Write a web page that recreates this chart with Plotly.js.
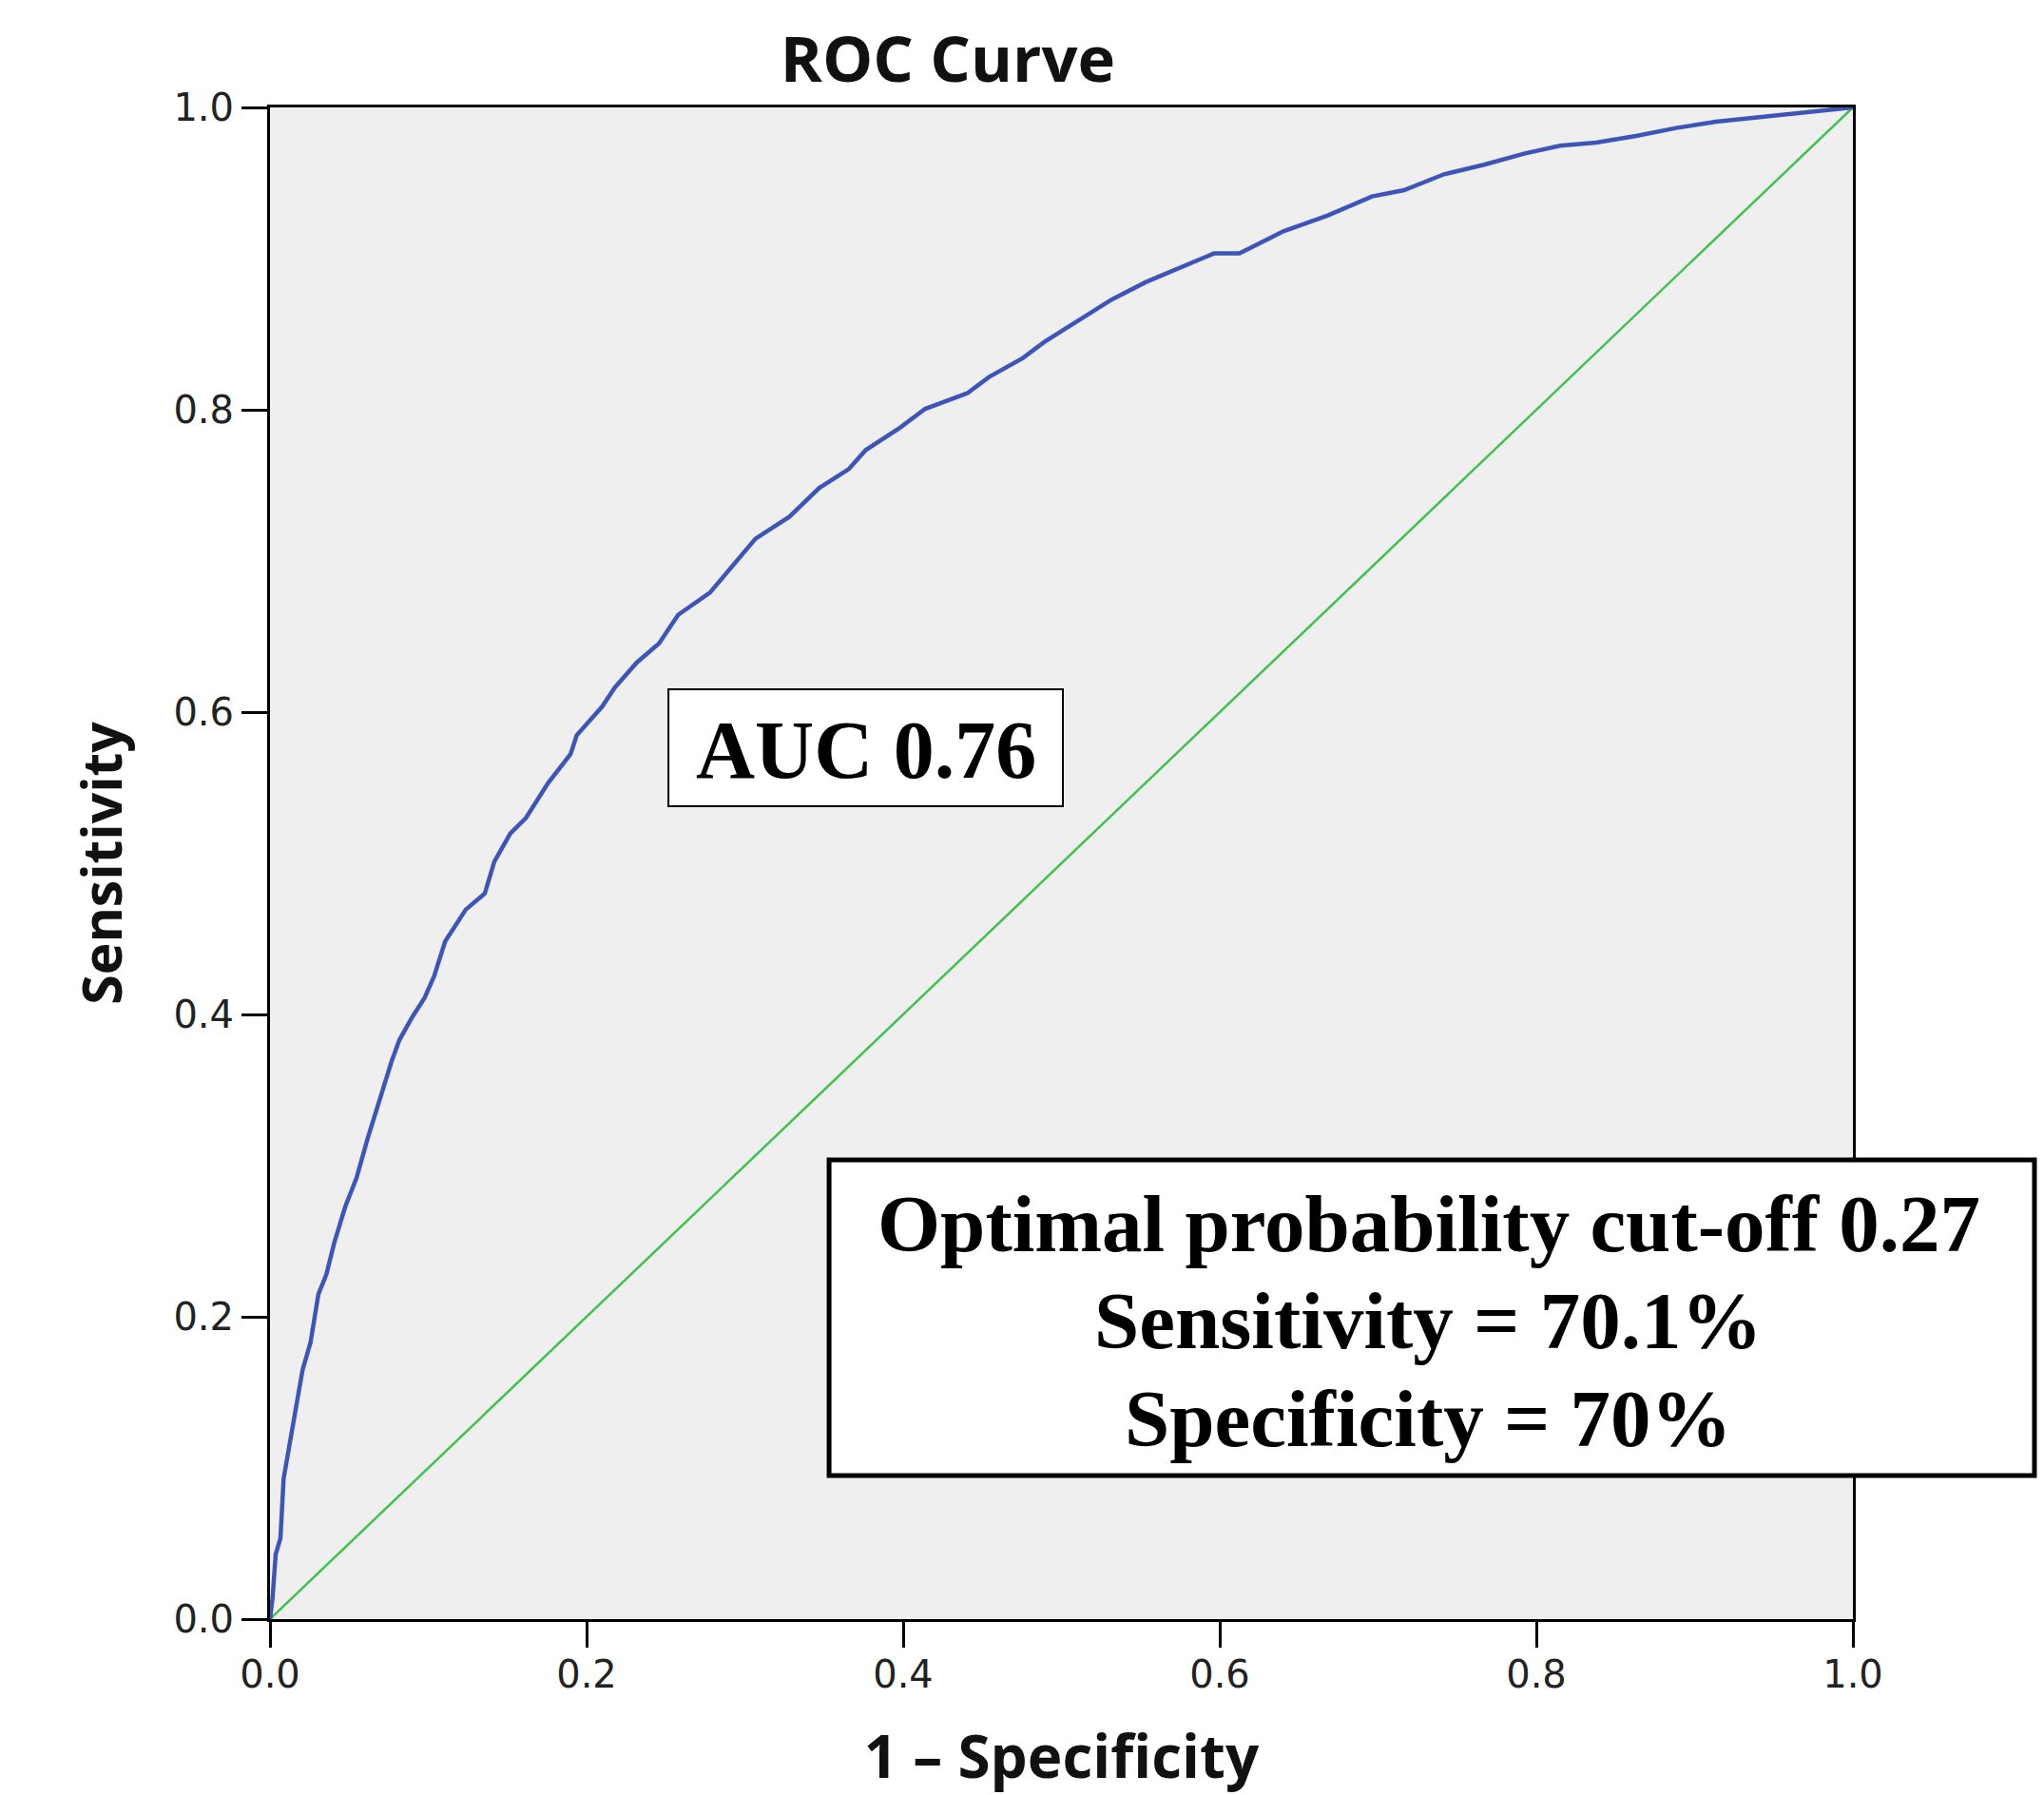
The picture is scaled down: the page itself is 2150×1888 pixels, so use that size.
<!DOCTYPE html>
<html>
<head>
<meta charset="utf-8">
<script src="https://cdn.plot.ly/plotly-3.0.1.min.js"></script>
<style>
  html, body { margin: 0; padding: 0; background: #ffffff; }
  #chart { width: 2150px; height: 1888px; }
</style>
</head>
<body>
<div id="chart"></div>
<script>
// ROC curve: 1 - Specificity (false positive rate) vs Sensitivity
const fpr = [0, 0.0016, 0.0036, 0.0066, 0.0086, 0.0116, 0.0146, 0.0176, 0.0206, 0.0256,
  0.0306, 0.0356, 0.0406, 0.0476, 0.0547, 0.0617, 0.0697, 0.0767, 0.0817, 0.0897,
  0.0977, 0.1037, 0.1107, 0.1237, 0.1357, 0.1417, 0.1518, 0.1617, 0.1758, 0.1898,
  0.1938, 0.2098, 0.2178, 0.2318, 0.2458, 0.2578, 0.2779, 0.2879, 0.3067, 0.3282,
  0.3469, 0.3657, 0.3764, 0.3978, 0.4139, 0.4408, 0.4542, 0.4756, 0.4890, 0.5078,
  0.5319, 0.5534, 0.5802, 0.5963, 0.6124, 0.6405, 0.6683, 0.6962, 0.7164, 0.7417,
  0.7670, 0.7922, 0.8150, 0.8377, 0.8630, 0.8883, 0.9135, 0.9490, 0.9740, 1.0];
const tpr = [0, 0.0138, 0.0428, 0.0535, 0.0930, 0.1116, 0.1277, 0.1460, 0.1650, 0.1830,
  0.2150, 0.2280, 0.2490, 0.2730, 0.2920, 0.3180, 0.3450, 0.3685, 0.3830, 0.3980,
  0.4110, 0.4254, 0.4484, 0.4694, 0.4800, 0.5010, 0.5197, 0.5300, 0.5533, 0.5721,
  0.5847, 0.6036, 0.6162, 0.6329, 0.6455, 0.6643, 0.6790, 0.6916, 0.7147, 0.7293,
  0.7482, 0.7608, 0.7734, 0.7880, 0.8006, 0.8111, 0.8216, 0.8342, 0.8447, 0.8572,
  0.8730, 0.8845, 0.8960, 0.9034, 0.9034, 0.9182, 0.9285, 0.9411, 0.9453, 0.9558,
  0.9621, 0.9694, 0.9747, 0.9767, 0.9811, 0.9864, 0.9906, 0.9946, 0.9977, 1.0];
// Reference (chance) line
const refX = [0, 1];
const refY = [0, 1];
// Axis ticks
const tickVals = [0, 0.2, 0.4, 0.6, 0.8, 1.0];
const tickText = ['0.0', '0.2', '0.4', '0.6', '0.8', '1.0'];
// Texts
const chartTitle = 'ROC Curve';
const xTitle = '1 \u2013 Specificity';
const yTitle = 'Sensitivity';
const aucText = 'AUC 0.76';
const infoLines = ['Optimal probability cut-off 0.27', 'Sensitivity = 70.1%', 'Specificity = 70%'];

const traces = [
  { x: refX, y: refY, type: 'scatter', mode: 'lines', line: { color: '#3ec24c', width: 2.5 }, hoverinfo: 'skip', showlegend: false },
  { x: fpr, y: tpr, type: 'scatter', mode: 'lines', line: { color: '#3d55b8', width: 4.5 }, showlegend: false }
];

const axisCommon = {
  range: [0, 1], tickmode: 'array', tickvals: tickVals, ticktext: tickText,
  ticks: 'outside', ticklen: 27, tickwidth: 3, tickcolor: '#000',
  showline: true, linecolor: '#000', linewidth: 3, mirror: true,
  showgrid: false, zeroline: false,
  tickfont: { family: 'DejaVu Sans', size: 40, color: '#222' }
};

const infoY = [0.2619, 0.1972, 0.1330];
const annotations = [
  { xref: 'paper', yref: 'paper', x: 0.3766, y: 0.5748, xanchor: 'center', yanchor: 'middle',
    text: '<b>' + aucText + '</b>', showarrow: false,
    font: { family: 'Liberation Serif', size: 86, color: '#000' } }
].concat(infoLines.map((t, i) => ({
  xref: 'paper', yref: 'paper', x: 0.7321, y: infoY[i], xanchor: 'center', yanchor: 'middle',
  text: '<b>' + t + '</b>', showarrow: false,
  font: { family: 'Liberation Serif', size: 85, color: '#000' }
})));

const layout = {
  width: 2150, height: 1888,
  margin: { l: 284, r: 201, t: 113, b: 185, pad: 0 },
  paper_bgcolor: '#ffffff', plot_bgcolor: '#efefef',
  title: { text: chartTitle, x: 0.4637, xref: 'container', xanchor: 'center',
    y: 0.9670, yref: 'container', yanchor: 'middle',
    font: { family: 'Open Sans', size: 67, color: '#111', weight: 'bold' } },
  xaxis: Object.assign({}, axisCommon, {
    ticklabelstandoff: -6,
    title: { text: '<b>' + xTitle + '</b>', standoff: 44, font: { family: 'Open Sans', size: 62, color: '#111' } }
  }),
  yaxis: Object.assign({}, axisCommon, {
    title: { text: '<b>' + yTitle + '</b>', standoff: 36, font: { family: 'Open Sans', size: 57, color: '#111' } }
  }),
  shapes: [
    { type: 'rect', xref: 'paper', yref: 'paper', x0: 0.2517, x1: 0.5009, y0: 0.5377, y1: 0.6151,
      line: { color: '#000', width: 2 }, fillcolor: '#ffffff', layer: 'above' },
    { type: 'rect', xref: 'paper', yref: 'paper', x0: 0.3532, x1: 1.1147, y0: 0.0950, y1: 0.3038,
      line: { color: '#000', width: 5 }, fillcolor: '#ffffff', layer: 'above' }
  ],
  annotations: annotations,
  showlegend: false
};

Plotly.newPlot('chart', traces, layout, { displayModeBar: false, staticPlot: true });
</script>
</body>
</html>
